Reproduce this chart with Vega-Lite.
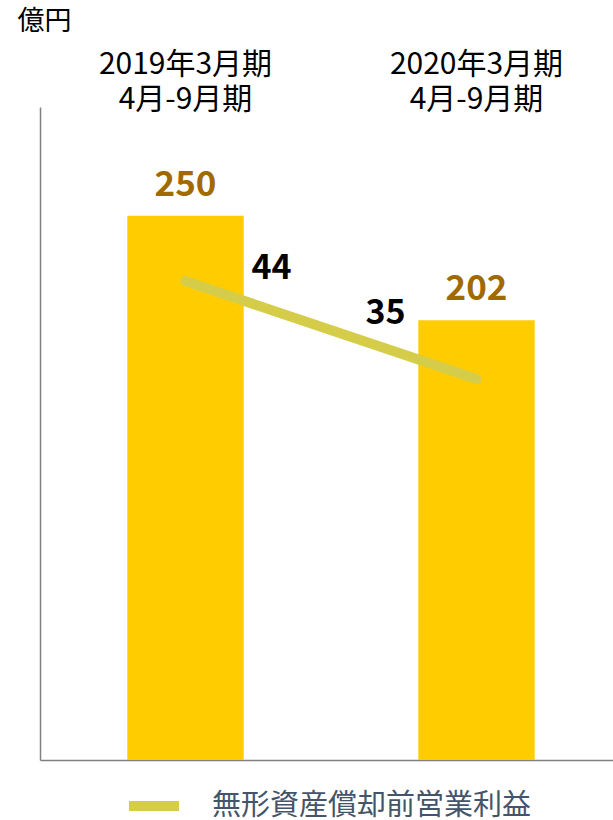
{
  "$schema": "https://vega.github.io/schema/vega-lite/v6.json",
  "width": 573,
  "height": 653,
  "autosize": {"type": "none"},
  "padding": {"left": 40, "top": 107, "right": 0, "bottom": 60},
  "config": {"font": "Noto Sans CJK JP", "view": {"stroke": null}},
  "data": {
    "values": [
      {"period": "2019年3月期|4月-9月期", "sales": 250, "ebita": 44},
      {"period": "2020年3月期|4月-9月期", "sales": 202, "ebita": 35}
    ]
  },
  "layer": [
    {
      "encoding": {
        "x": {
          "field": "period", "type": "nominal", "sort": null,
          "scale": {"paddingInner": 0.6, "paddingOuter": 0.3, "range": [0, 582]},
          "axis": {"orient": "bottom", "labels": false, "ticks": false, "title": null, "domainColor": "#808080", "domainWidth": 1.5}
        },
        "y": {
          "field": "sales", "type": "quantitative",
          "scale": {"domain": [0, 300]},
          "axis": {
            "labels": false, "ticks": false, "grid": false,
            "domainColor": "#808080", "domainWidth": 1.5,
            "title": "億円", "titleAngle": 0, "titleAlign": "center", "titleBaseline": "middle",
            "titleX": 4, "titleY": -86, "titleFontSize": 27, "titleFontWeight": "normal", "titleColor": "#000000"
          }
        }
      },
      "layer": [
        {"mark": {"type": "bar", "color": "#FFCC00"}},
        {
          "mark": {"type": "text", "baseline": "bottom", "dy": -13, "fontSize": 35, "fontWeight": "bold", "color": "#A06A00"},
          "encoding": {"text": {"field": "sales", "type": "quantitative"}}
        }
      ]
    },
    {
      "encoding": {
        "x": {
          "field": "period", "type": "nominal", "sort": null,
          "axis": {
            "orient": "top", "title": null, "ticks": false, "domain": false,
            "labelAngle": 0, "labelExpr": "split(datum.value, '|')", "labelLimit": 0,
            "labelFontSize": 30, "labelColor": "#000000", "labelLineHeight": 35, "labelPadding": 28
          }
        },
        "y": {"field": "ebita", "type": "quantitative", "scale": {"domain": [0, 60]}, "axis": null}
      },
      "layer": [
        {
          "mark": {"type": "line", "strokeWidth": 10, "strokeCap": "round"},
          "encoding": {
            "color": {
              "datum": "無形資産償却前営業利益", "type": "nominal",
              "scale": {"range": ["#D5CD4A"]},
              "legend": {
                "orient": "none", "legendX": 84, "legendY": 669, "title": null,
                "symbolType": "stroke", "symbolStrokeWidth": 10, "symbolSize": 2500,
                "labelFontSize": 29, "labelColor": "#44546A", "labelOffset": 28, "labelLimit": 0
              }
            }
          }
        },
        {
          "transform": [{"filter": "datum.ebita == 44"}],
          "mark": {"type": "text", "dx": 86, "dy": -12, "fontSize": 34, "fontWeight": "bold", "color": "#000000"},
          "encoding": {"text": {"field": "ebita", "type": "quantitative"}}
        },
        {
          "transform": [{"filter": "datum.ebita == 35"}],
          "mark": {"type": "text", "dx": -91, "dy": -65, "fontSize": 34, "fontWeight": "bold", "color": "#000000"},
          "encoding": {"text": {"field": "ebita", "type": "quantitative"}}
        }
      ]
    }
  ],
  "resolve": {"scale": {"y": "independent"}, "axis": {"x": "independent"}}
}
